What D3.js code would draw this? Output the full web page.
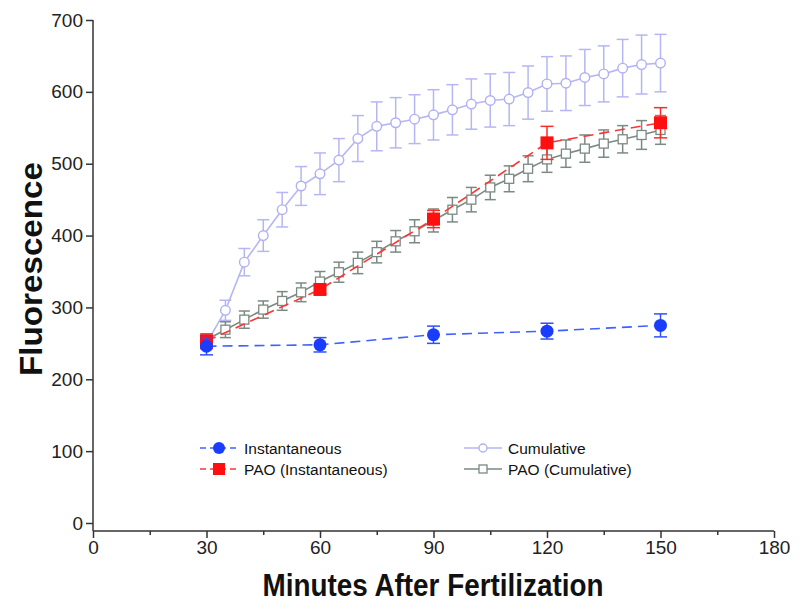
<!DOCTYPE html>
<html>
<head>
<meta charset="utf-8">
<script src="https://cdn.jsdelivr.net/npm/d3@7"></script>
<style>
  html, body { margin: 0; padding: 0; background: #fff; }
  svg { display: block; }
  text { font-family: "Liberation Sans", Arial, sans-serif; }
</style>
</head>
<body>
<svg id="chart" width="800" height="607"></svg>
<script>
// ---- data ----
const timesFine = [30,35,40,45,50,55,60,65,70,75,80,85,90,95,100,105,110,115,120,125,130,135,140,145,150];
const timesCoarse = [30,60,90,120,150];

const instantaneous    = [246, 248, 262, 267, 275];
const instantaneousErr = [12, 10, 12, 11, 16];

const paoInstantaneous    = [253, 325, 423, 529, 557];
const paoInstantaneousErr = [10, 6, 12, 23, 21];

const cumulative    = [250,296,363,400,436,469,486,505,535,552,557,562,568,575,583,588,590,599,611,612,620,625,633,638,640];
const cumulativeErr = [8,14,19,22,24,27,29,30,32,34,35,34,35,35,35,37,37,37,38,38,39,39,40,41,40];

const paoCumulative    = [255,269,283,297,309,321,336,349,362,377,392,406,421,436,450,467,479,493,506,514,521,528,534,540,547];
const paoCumulativeErr = [8,11,12,12,13,13,14,14,15,15,15,16,16,17,17,17,18,18,18,19,19,19,19,20,20];

const xTicks = [0,30,60,90,120,150,180];
const xMinorTicks = [15,45,75,105,135,165];
const yTicks = [0,100,200,300,400,500,600,700];

const xTitle = "Minutes After Fertilization";
const yTitle = "Fluorescence";
const legendLabels = ["Instantaneous", "PAO (Instantaneous)", "Cumulative", "PAO (Cumulative)"];

// ---- chart ----
const svg = d3.select("#chart");
const x = d3.scaleLinear().domain([0, 180]).range([93, 774]);
const y = d3.scaleLinear().domain([0, 700]).range([523, 20]);
const xAxisY = 531;
const axisColor = "#333";

// axes
const yAxis = svg.append("g").attr("transform", `translate(${x(0)},0)`)
  .call(d3.axisLeft(y).tickValues(yTicks).tickSize(7).tickPadding(3));
yAxis.select(".domain").remove();
yAxis.selectAll("line").attr("stroke", axisColor).attr("stroke-width", 1.5);
yAxis.selectAll("text").attr("font-size", 19).attr("fill", "#222")
  .attr("font-family", "Liberation Sans, Arial, sans-serif");
svg.append("line").attr("x1", x(0)).attr("x2", x(0)).attr("y1", y(700)).attr("y2", xAxisY)
  .attr("stroke", axisColor).attr("stroke-width", 1.5);

const xAxis = svg.append("g").attr("transform", `translate(0,${xAxisY})`)
  .call(d3.axisBottom(x).tickValues(xTicks).tickSize(7).tickPadding(3));
xAxis.select(".domain").attr("stroke", axisColor).attr("stroke-width", 1.5).attr("d", `M${x(0)},0H${x(180)}`);
xAxis.selectAll("line").attr("stroke", axisColor).attr("stroke-width", 1.5);
xAxis.selectAll("text").attr("font-size", 19).attr("fill", "#222")
  .attr("font-family", "Liberation Sans, Arial, sans-serif");
const xMinor = svg.append("g").attr("transform", `translate(0,${xAxisY})`)
  .call(d3.axisBottom(x).tickValues(xMinorTicks).tickSize(4).tickFormat(""));
xMinor.select(".domain").remove();
xMinor.selectAll("line").attr("stroke", axisColor).attr("stroke-width", 1.5);

// titles
svg.append("text").attr("x", 433).attr("y", 596).attr("text-anchor", "middle")
  .attr("font-size", 31).attr("font-weight", "bold").attr("fill", "#111")
  .attr("textLength", 341).attr("lengthAdjust", "spacingAndGlyphs").text(xTitle);
svg.append("text").attr("transform", "translate(42,269) rotate(-90)").attr("text-anchor", "middle")
  .attr("font-size", 31).attr("font-weight", "bold").attr("fill", "#111")
  .attr("textLength", 214).attr("lengthAdjust", "spacingAndGlyphs").text(yTitle);

// series helpers
function drawSeries(cfg) {
  const g = svg.append("g");
  const pts = cfg.times.map((t, i) => ({ t, v: cfg.values[i], e: cfg.errs[i] }));
  // error bars
  const cap = cfg.cap;
  pts.forEach(p => {
    g.append("line").attr("x1", x(p.t)).attr("x2", x(p.t)).attr("y1", y(p.v - p.e)).attr("y2", y(p.v + p.e))
      .attr("stroke", cfg.errColor).attr("stroke-width", 1.5);
    [p.v - p.e, p.v + p.e].forEach(vv => {
      g.append("line").attr("x1", x(p.t) - cap / 2).attr("x2", x(p.t) + cap / 2).attr("y1", y(vv)).attr("y2", y(vv))
        .attr("stroke", cfg.errColor).attr("stroke-width", 1.5);
    });
  });
  // line
  g.append("path").datum(pts)
    .attr("d", d3.line().x(d => x(d.t)).y(d => y(d.v)))
    .attr("fill", "none").attr("stroke", cfg.lineColor).attr("stroke-width", 1.6)
    .attr("stroke-dasharray", cfg.dash || null);
  // markers
  pts.forEach(p => drawMarker(g, cfg, x(p.t), y(p.v)));
}
function drawMarker(g, cfg, cx, cy) {
  if (cfg.shape === "circle") {
    g.append("circle").attr("cx", cx).attr("cy", cy).attr("r", cfg.size)
      .attr("fill", cfg.fill).attr("stroke", cfg.stroke).attr("stroke-width", cfg.sw);
  } else {
    g.append("rect").attr("x", cx - cfg.size).attr("y", cy - cfg.size)
      .attr("width", cfg.size * 2).attr("height", cfg.size * 2)
      .attr("fill", cfg.fill).attr("stroke", cfg.stroke).attr("stroke-width", cfg.sw);
  }
}

const styles = [
  { label: legendLabels[0], times: timesCoarse, values: instantaneous, errs: instantaneousErr,
    lineColor: "#4060ff", errColor: "#3050ff", dash: "10,6", shape: "circle", size: 6.5,
    fill: "#1a3cff", stroke: "none", sw: 0, cap: 13 },
  { label: legendLabels[1], times: timesCoarse, values: paoInstantaneous, errs: paoInstantaneousErr,
    lineColor: "#ff3535", errColor: "#ff2a2a", dash: "10,6", shape: "rect", size: 6.5,
    fill: "#ff1010", stroke: "none", sw: 0, cap: 13 },
  { label: legendLabels[2], times: timesFine, values: cumulative, errs: cumulativeErr,
    lineColor: "#b6b6f5", errColor: "#b6b6f5", dash: null, shape: "circle", size: 4.8,
    fill: "#fff", stroke: "#b0b0f2", sw: 1.4, cap: 12 },
  { label: legendLabels[3], times: timesFine, values: paoCumulative, errs: paoCumulativeErr,
    lineColor: "#7b8a82", errColor: "#7b8a82", dash: null, shape: "rect", size: 4.5,
    fill: "#fff", stroke: "#7b8a82", sw: 1.3, cap: 11 }
];

// draw order: cumulative, PAO cumulative, PAO inst, inst
[styles[2], styles[3], styles[1], styles[0]].forEach(drawSeries);

// legend
const legendPos = [
  { x: 200, y: 448 }, { x: 200, y: 469 }, { x: 464, y: 448 }, { x: 464, y: 469 }
];
styles.forEach((s, i) => {
  const p = legendPos[i];
  const lg = svg.append("g");
  lg.append("line").attr("x1", p.x).attr("x2", p.x + 38).attr("y1", p.y).attr("y2", p.y)
    .attr("stroke", s.lineColor).attr("stroke-width", 1.6).attr("stroke-dasharray", s.dash ? "6,4" : null);
  const mcfg = Object.assign({}, s, { size: s.shape === "circle" ? (s.size > 5 ? 6 : 4) : (s.size > 5 ? 6 : 4) });
  drawMarker(lg, mcfg, p.x + 19, p.y);
  lg.append("text").attr("x", p.x + 44).attr("y", p.y).attr("dy", "0.36em")
    .attr("font-size", 15.5).attr("fill", "#111").text(s.label);
});
</script>
</body>
</html>
